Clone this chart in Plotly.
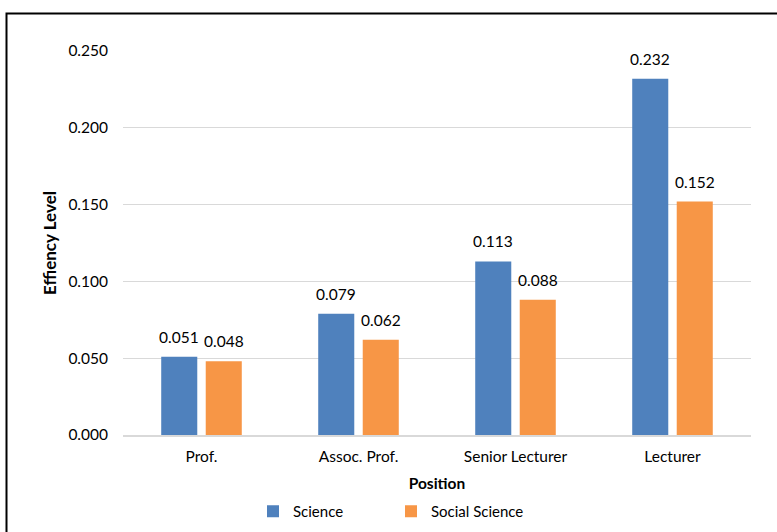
import plotly.graph_objects as go

categories = ["Prof.", "Assoc. Prof.", "Senior Lecturer", "Lecturer"]
science = [0.051, 0.079, 0.113, 0.232]
social_science = [0.048, 0.062, 0.088, 0.152]
series_names = ["Science", "Social Science"]
colors = ["#4F81BD", "#F79646"]
tick_vals = [0, 0.05, 0.1, 0.15, 0.2, 0.25]
tick_text = ["0.000", "0.050", "0.100", "0.150", "0.200", "0.250"]

FONT = "Lato, Open Sans, sans-serif"
W, H = 777, 532
L, R, T, B = 123, 26, 51, 97
PW, PH = W - L - R, H - T - B

BARGAP, GROUPGAP = 0.433, 0.19
slot = (1 - BARGAP) / 2  # in category units

fig = go.Figure()
annotations = []
for k, (name, vals, col) in enumerate(zip(series_names, [science, social_science], colors)):
    fig.add_trace(go.Bar(
        x=categories, y=vals, name=name,
        marker=dict(color=col, line=dict(width=0)),
    ))
    off = (k - 0.5) * slot
    for i, v in enumerate(vals):
        annotations.append(dict(
            x=i + off, y=v, xref="x", yref="y", text=f"{v:.3f}", showarrow=False,
            yanchor="bottom", xanchor="center", yshift=9,
            font=dict(family=FONT, size=15.5, color="#000000"),
        ))

fig.update_layout(
    width=W, height=H,
    paper_bgcolor="white", plot_bgcolor="white",
    margin=dict(l=L, r=R, t=T, b=B, autoexpand=False),
    barmode="group", bargap=BARGAP, bargroupgap=GROUPGAP,
    font=dict(family=FONT, size=15.5, color="#000000"),
    showlegend=True,
    legend=dict(orientation="h", x=(253 - L) / PW, xanchor="left",
                y=-(511.5 - (H - B)) / PH, yanchor="middle",
                font=dict(size=15), traceorder="normal", itemwidth=30, entrywidth=93),
    xaxis=dict(showgrid=False, showline=True, linecolor="#D9D9D9", linewidth=1.5,
               ticks="", tickfont=dict(size=15.5), automargin=False, ticklabelstandoff=7,
               title=dict(text="<b>Position</b>", font=dict(size=15.5), standoff=14)),
    yaxis=dict(range=[0, 0.25], tickvals=tick_vals, ticktext=tick_text,
               showgrid=True, gridcolor="#D9D9D9", gridwidth=1.3, zeroline=False,
               showline=False, ticks="", ticklabelstandoff=14, tickfont=dict(size=15.5),
               automargin=False,
               title=dict(text="<b>Effiency Level</b>", font=dict(size=17), standoff=7)),
    annotations=annotations,
    shapes=[dict(type="rect", xref="paper", yref="paper",
                 x0=(6.5 - L) / PW, x1=1.2, y0=-0.5, y1=((H - B) - 13.5) / PH,
                 line=dict(color="#000000", width=2), fillcolor="rgba(0,0,0,0)", layer="below")],
)

fig.write_html("out.html", config={"displayModeBar": False},
               post_script="document.body.style.margin='0';")
